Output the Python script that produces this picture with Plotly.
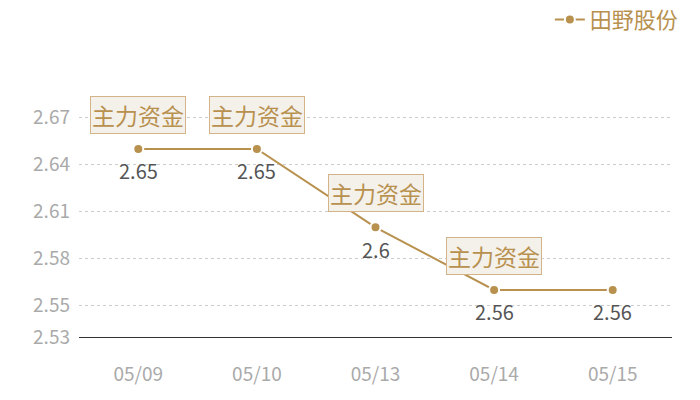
import plotly.graph_objects as go

dates = ['05/09', '05/10', '05/13', '05/14', '05/15']
prices = [2.65, 2.65, 2.60, 2.56, 2.56]
price_labels = ['2.65', '2.65', '2.6', '2.56', '2.56']
flow_dates = ['05/09', '05/10', '05/13', '05/14']
flow_prices = [2.65, 2.65, 2.60, 2.56]
flow_text = '主力资金'
y_ticks = [2.53, 2.55, 2.58, 2.61, 2.64, 2.67]
series_name = '田野股份'

gold = '#b8914f'
font_family = 'Noto Sans CJK SC, Open Sans, sans-serif'

fig = go.Figure()

fig.add_trace(go.Scatter(
    x=dates, y=prices, name=series_name,
    mode='lines+markers',
    line=dict(color=gold, width=2),
    marker=dict(size=10, color=gold, line=dict(color='white', width=2)),
    cliponaxis=False
))

# value labels under each point
for d, p, lab in zip(dates, prices, price_labels):
    fig.add_annotation(
        x=d, y=p, text=lab, showarrow=False, yshift=-22,
        font=dict(size=20, color='#555555', family=font_family)
    )

# the boxed "主力资金" tags above the points
for d, p in zip(flow_dates, flow_prices):
    fig.add_annotation(
        x=d, y=p, text=flow_text, showarrow=False, yshift=34,
        font=dict(size=23, color=gold, family=font_family),
        bgcolor='#f4f0ea', bordercolor='#d2b488', borderwidth=1, borderpad=1
    )

fig.update_layout(
    width=700, height=400,
    margin=dict(l=79, r=28, t=80, b=63, autoexpand=False),
    plot_bgcolor='white', paper_bgcolor='white',
    font=dict(family=font_family),
    showlegend=True,
    legend=dict(
        x=1.02, xanchor='right', y=1.235, yanchor='middle',
        orientation='h',
        font=dict(size=22, color=gold),
        bgcolor='rgba(0,0,0,0)'
    ),
    xaxis=dict(
        type='category', range=[-0.5, 4.5],
        showgrid=False, zeroline=False,
        showline=True, linecolor='#333333', linewidth=1,
        ticks='', tickfont=dict(size=19, color='#aaaaaa'),
        ticklabelstandoff=20
    ),
    yaxis=dict(
        range=[2.53, 2.694], tickvals=y_ticks,
        ticktext=[f'{v:.2f}' for v in y_ticks],
        showgrid=True, gridcolor='#cccccc', griddash='dot', gridwidth=1,
        zeroline=False, showline=False, ticks='',
        tickfont=dict(size=19, color='#aaaaaa'),
        ticklabelstandoff=8
    )
)

fig.write_html('out.html', config={'displayModeBar': False},
               post_script="document.body.style.margin='0';")
